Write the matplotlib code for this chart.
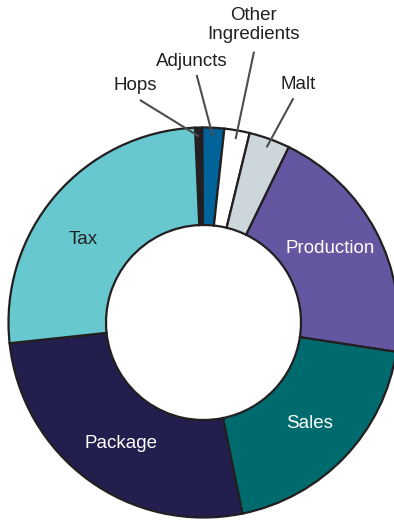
import numpy as np
import matplotlib
matplotlib.use("Agg")
import matplotlib.pyplot as plt

plt.rcParams['font.family'] = ['Liberation Sans', 'DejaVu Sans']

# доли затрат, %
categories = ['Hops', 'Adjuncts', 'Other\nIngredients', 'Malt',
              'Production', 'Sales', 'Package', 'Tax']
shares = [0.6, 1.8, 2.1, 3.4, 20.2, 19.4, 26.5, 26.0]
colors = ['#231f20', '#00649a', '#ffffff', '#cdd6db',
          '#6456a0', '#006b6e', '#221e4e', '#67c9cf']
text_colors = ['#231f20', '#231f20', '#231f20', '#231f20',
               'white', 'white', 'white', '#231f20']
inside = [False, False, False, False, True, True, True, True]
# сдвиг подписи внутри сектора, градусы
label_shift = {'Production': 2.5, 'Sales': 0.0, 'Package': 2.0, 'Tax': 6.0}

# позиции подписей снаружи (в единицах радиуса)
outer_text = {'Hops': (-0.351, 1.213), 'Adjuncts': (-0.059, 1.341),
              'Other\nIngredients': (0.254, 1.526), 'Malt': (0.485, 1.218)}
leader_start = {'Hops': (-0.326, 1.141), 'Adjuncts': (-0.035, 1.269),
                'Other\nIngredients': (0.259, 1.389), 'Malt': (0.461, 1.15)}

W, H = 394, 520
cx, cy, R = 203.5, 322.5, 195.0

fig = plt.figure(figsize=(W / 100, H / 100), dpi=100)
ax = fig.add_axes([0, 0, 1, 1])

wedges, _ = ax.pie(shares, colors=colors, startangle=92.5, counterclock=False,
                   radius=1.0,
                   wedgeprops=dict(width=0.5, edgecolor='#231f20', linewidth=1.6))

for w, name, tc, ins in zip(wedges, categories, text_colors, inside):
    mid = (w.theta1 + w.theta2) / 2
    if ins:
        a = np.deg2rad(mid + label_shift[name])
        ax.text(0.75 * np.cos(a), 0.75 * np.sin(a), name, color=tc,
                fontsize=13.5, ha='center', va='center')
    else:
        a = np.deg2rad(mid)
        ex, ey = 0.955 * np.cos(a), 0.955 * np.sin(a)
        sx, sy = leader_start[name]
        ax.plot([sx, ex], [sy, ey], color='#4d4d4f', lw=1.5, solid_capstyle='butt')
        tx, ty = outer_text[name]
        ax.text(tx, ty, name, color=tc, fontsize=13.5, ha='center', va='center',
                linespacing=1.15)

ax.set_aspect('auto')
ax.set_xlim(-cx / R, (W - cx) / R)
ax.set_ylim(-(H - cy) / R, cy / R)
ax.axis('off')

fig.savefig('out.png', dpi=100)
